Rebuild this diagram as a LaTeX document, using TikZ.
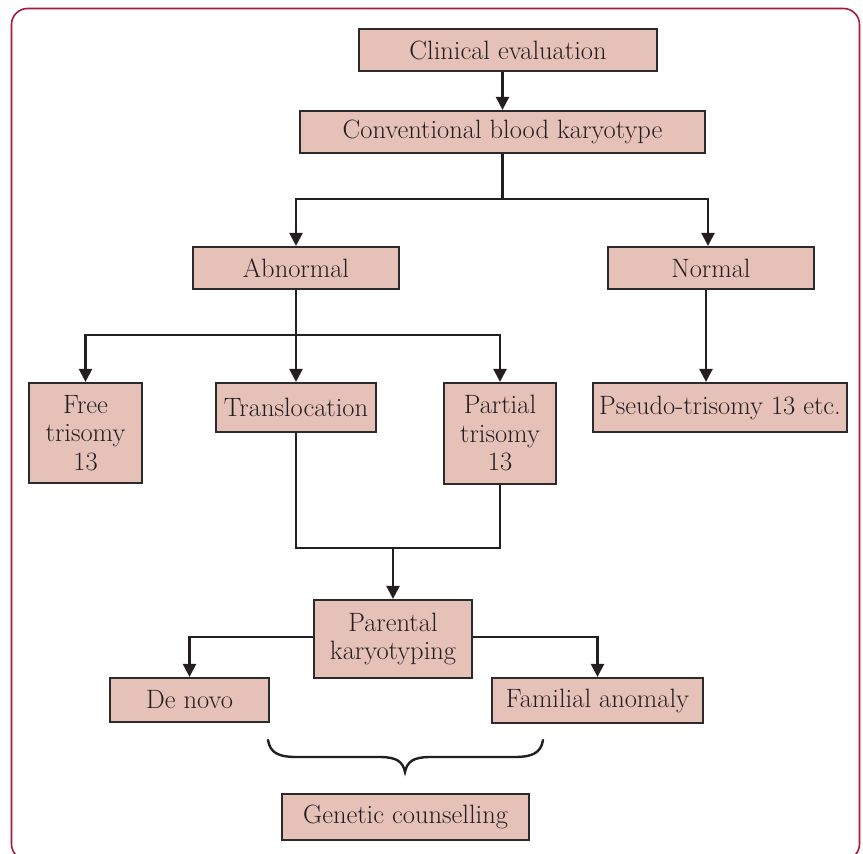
\documentclass[tikz,border=0pt]{standalone}
\usepackage{fontspec}
\usetikzlibrary{arrows.meta,calc}
\definecolor{boxfill}{HTML}{E5C1B8}
\definecolor{boxline}{HTML}{2B2B2B}
\definecolor{frame}{HTML}{A8193E}
\definecolor{conn}{HTML}{231F20}
\begin{document}
\begin{tikzpicture}[x=1pt,y=-1pt,
  box/.style={draw=boxline,fill=boxfill,line width=2.2pt,inner sep=0pt,align=center,
    font=\fontsize{26.5}{28.5}\selectfont,text=conn},
  arr/.style={draw=conn,line width=2.4pt,-{Triangle[length=13pt,width=13pt]}},
  ln/.style={draw=conn,line width=2.4pt},
  framestyle/.style={draw=frame,line width=1.6pt,rounded corners=16pt}]
\useasboundingbox (0,0) rectangle (863,854);
\draw[framestyle] (11.5,8.5) rectangle (859.5,860);

\node[box,minimum width=298pt,minimum height=42pt] (clin) at (508,50) {Clinical evaluation};
\node[box,minimum width=405pt,minimum height=42pt] (conv) at (502.5,132) {Conventional blood karyotype};
\node[box,minimum width=206pt,minimum height=42pt] (abn) at (296,268) {Abnormal};
\node[box,minimum width=206pt,minimum height=42pt] (norm) at (711,268) {Normal};
\node[box,minimum width=113pt,minimum height=100pt] (free) at (85.5,433) {Free\\trisomy\\13};
\node[box,minimum width=160pt,minimum height=49pt] (trans) at (296,407.5) {Translocation};
\node[box,minimum width=112pt,minimum height=101pt] (part) at (500,433.5) {Partial\\trisomy\\13};
\node[box,minimum width=254pt,minimum height=49pt] (pseudo) at (720,407.5) {Pseudo-trisomy 13 etc.};
\node[box,minimum width=158pt,minimum height=78pt] (par) at (393,639) {Parental\\karyotyping};
\node[box,minimum width=159pt,minimum height=44pt] (denovo) at (189.5,700) {De novo};
\node[box,minimum width=211pt,minimum height=45pt] (fam) at (597.5,700.5) {Familial anomaly};
\node[box,minimum width=247pt,minimum height=46pt] (gen) at (405.5,817) {Genetic counselling};

% connectors
\draw[arr] (clin.south -| conv.north) -- (conv.north);
\coordinate (cj) at ($(conv.south)+(0,45)$);
\draw[ln] (conv.south) -- (cj);
\draw[arr] (cj) -| (abn.north);
\draw[arr] (cj) -| ([xshift=-3pt]norm.north);
\draw[arr] (abn.south) -- (trans.north);
\coordinate (aj) at ($(abn.south)+(0,45)$);
\draw[arr] (aj) -| (free.north);
\draw[arr] (aj) -| (part.north);
\draw[arr] ([xshift=-5pt]norm.south) -- ([xshift=-5pt]norm.south |- pseudo.north);
\coordinate (tj) at ($(trans.south)!0.5!(part.south)+(0,89)$);
\draw[ln] (trans.south) |- (tj -| par.north) -| (part.south);
\draw[arr] (tj -| par.north) -- (par.north);
\draw[arr] ([yshift=2pt]par.west) -| (denovo.north);
\draw[arr] ([yshift=2pt]par.east) -| (fam.north);

% brace
\draw[ln,line cap=round] (268,740) .. controls (270,753) and (279,757) .. (296,757)
  -- (380,757) .. controls (397,757) and (403,762) .. (405,772)
  .. controls (407,762) and (413,757) .. (430,757)
  -- (515,757) .. controls (532,757) and (541,753) .. (543,740);
\end{tikzpicture}
\end{document}
